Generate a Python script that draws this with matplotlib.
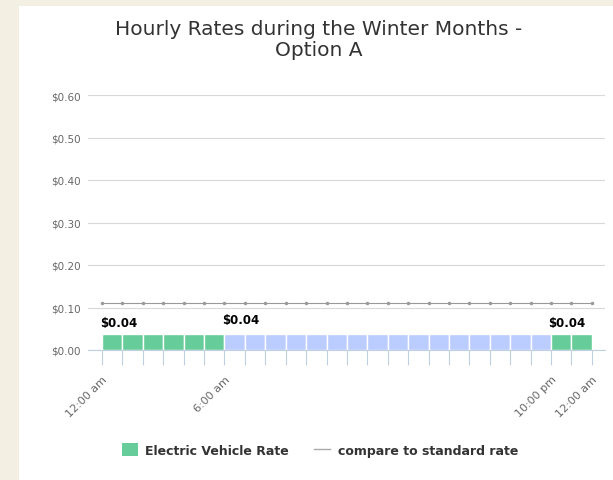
import numpy as np
import matplotlib.pyplot as plt
from matplotlib.patches import Rectangle, Patch
from matplotlib.lines import Line2D

hours = np.arange(24)
ev_rate = [0.038] * 24
off_peak = [1] * 6 + [0] * 16 + [1] * 2
std_hours = np.arange(25)
std_rate = [0.11] * 25
label_hours = [0, 6, 22]
label_text = ['$0.04', '$0.04', '$0.04']
tick_pos = [0, 6, 22, 24]
tick_labels = ['12:00 am', '6:00 am', '10:00 pm', '12:00 am']
yticks = [0, 0.1, 0.2, 0.3, 0.4, 0.5, 0.6]

GREEN = '#66cc99'
BLUE = '#bbccff'

fig = plt.figure(figsize=(6.13, 4.81), dpi=100)
fig.patch.set_facecolor('#f3f0e3')
fig.patches.append(Rectangle((19 / 613, 0), 1, 1 - 7 / 481, transform=fig.transFigure,
                             facecolor='white', edgecolor='none', zorder=-5))

ax = fig.add_axes([88 / 613, 1 - 351 / 481, 517 / 613, 255 / 481])
ax.set_zorder(2)
ax.set_facecolor('none')

colors = [GREEN if o else BLUE for o in off_peak]
ax.bar(hours, ev_rate, width=1, align='edge', color=colors,
       edgecolor='white', linewidth=1, zorder=2)
ax.plot(std_hours, std_rate, color='#999999', lw=0.8, marker='o', ms=1.5,
        zorder=3)

for h, t in zip(label_hours, label_text):
    ax.text(h - 0.12, 0.064 if h != 6 else 0.071, t, fontsize=8.5, fontweight='bold',
            color='black', ha='left', va='center', zorder=4)

ax.set_ylim(0, 0.6)
ax.set_xlim(-0.69, 24.65)
ax.set_yticks(yticks)
ax.set_yticklabels(['$%.2f' % v for v in yticks], color='#666666', fontsize=7.5)
ax.yaxis.grid(True, color='#d8d8d8', lw=0.8)
ax.set_axisbelow(True)
ax.tick_params(axis='y', length=0, pad=5)

ax.set_xticks(np.arange(25), minor=True)
ax.set_xticks(tick_pos)
ax.set_xticklabels(tick_labels, rotation=45, ha='right', rotation_mode='anchor',
                   color='#666666', fontsize=8)
ax.tick_params(axis='x', which='both', length=11, color='#c0d0e0', width=0.8)
ax.tick_params(axis='x', which='major', pad=6)

for s in ['top', 'right', 'left']:
    ax.spines[s].set_visible(False)
ax.spines['bottom'].set_color('#c0d0e0')

fig.text(319 / 613, 1 - 40 / 481, 'Hourly Rates during the Winter Months -\nOption A',
         ha='center', va='center', fontsize=14.5, color='#333333', linespacing=1.1)

handles = [Patch(facecolor=GREEN, edgecolor='none'),
           Line2D([0], [0], color='#aaaaaa', lw=1)]
fig.legend(handles, ['Electric Vehicle Rate', 'compare to standard rate'],
           loc='center', bbox_to_anchor=(320 / 613, 1 - 451 / 481), ncol=2,
           frameon=False, prop={'size': 9, 'weight': 'bold'},
           labelcolor='#333333', handlelength=1.3, handleheight=1.2,
           columnspacing=2.0, handletextpad=0.6)

fig.savefig('out.png', dpi=100)
